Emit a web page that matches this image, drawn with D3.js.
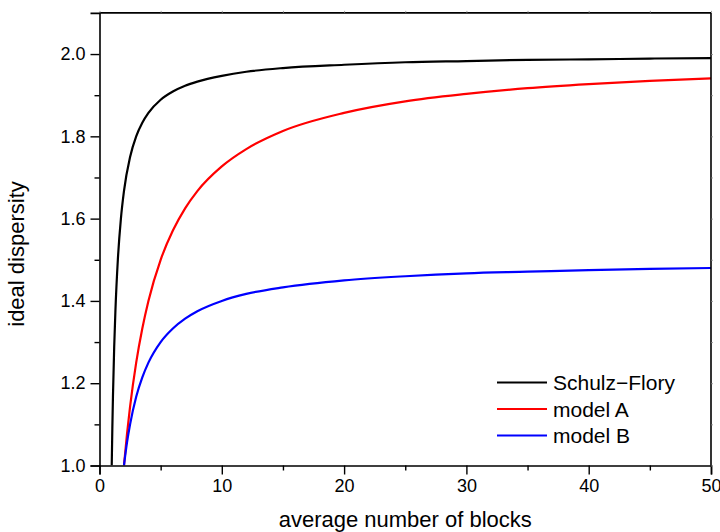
<!DOCTYPE html>
<html>
<head>
<meta charset="utf-8">
<script src="https://cdn.jsdelivr.net/npm/d3@7"></script>
<style>
  html, body { margin: 0; padding: 0; background: #fff; }
  svg text { font-family: "Liberation Sans", Arial, sans-serif; fill: #000; }
</style>
</head>
<body>
<svg id="chart" width="720" height="532"></svg>
<script>
// Average number of blocks (x) and ideal dispersity (y) for each model
const sfBlocks = [1, 1.05, 1.1, 1.2, 1.3, 1.5, 1.75, 2, 2.5, 3, 3.5, 4, 5, 6, 7, 8, 10, 12, 15, 20, 25, 30, 35, 40, 45, 50];
const sfDispersity = [1.000, 1.091, 1.167, 1.286, 1.375, 1.500, 1.600, 1.667, 1.750, 1.800, 1.833, 1.857, 1.889, 1.909, 1.923, 1.933, 1.947, 1.957, 1.966, 1.974, 1.980, 1.983, 1.986, 1.987, 1.989, 1.990];

const modelBlocks = [2, 2.25, 2.5, 3, 3.5, 4, 5, 6, 7, 8, 10, 12, 15, 20, 25, 30, 35, 40, 45, 50];
const modelADispersity = [1.000, 1.077, 1.143, 1.250, 1.333, 1.400, 1.500, 1.571, 1.625, 1.667, 1.727, 1.769, 1.813, 1.857, 1.885, 1.903, 1.917, 1.927, 1.935, 1.941];
const modelBDispersity = [1.000, 1.056, 1.100, 1.167, 1.214, 1.250, 1.300, 1.333, 1.357, 1.375, 1.400, 1.417, 1.433, 1.450, 1.460, 1.467, 1.471, 1.475, 1.478, 1.480];

const seriesNames = ["Schulz\u2212Flory", "model A", "model B"];
const seriesColors = ["#000000", "#ff0000", "#0000ff"];

const xTicks = [0, 10, 20, 30, 40, 50];
const xMinorTicks = [5, 15, 25, 35, 45];
const yTicks = [1.0, 1.2, 1.4, 1.6, 1.8, 2.0];
const yMinorTicks = [1.1, 1.3, 1.5, 1.7, 1.9];

const xTitle = "average number of blocks";
const yTitle = "ideal dispersity";

const series = [
  { name: seriesNames[0], color: seriesColors[0], xs: sfBlocks, ys: sfDispersity },
  { name: seriesNames[1], color: seriesColors[1], xs: modelBlocks, ys: modelADispersity },
  { name: seriesNames[2], color: seriesColors[2], xs: modelBlocks, ys: modelBDispersity }
];

const svg = d3.select("#chart");
const plot = { left: 99.5, right: 711, top: 12.9, bottom: 465.5 };

const x = d3.scaleLinear().domain([0, 50]).range([plot.left, plot.right]);
const y = d3.scaleLinear().domain([1.0, 2.1]).range([plot.bottom, plot.top]);

// clip curves to the frame
svg.append("defs").append("clipPath").attr("id", "clip")
  .append("rect")
  .attr("x", plot.left).attr("y", plot.top)
  .attr("width", plot.right - plot.left).attr("height", plot.bottom - plot.top);

const line = d3.line()
  .x(d => x(d[0]))
  .y(d => y(d[1]))
  .curve(d3.curveMonotoneX);

const curves = svg.append("g").attr("clip-path", "url(#clip)");
series.forEach(s => {
  const pts = s.xs.map((v, i) => [v, s.ys[i]]);
  curves.append("path")
    .datum(pts)
    .attr("fill", "none")
    .attr("stroke", s.color)
    .attr("stroke-width", 2.2)
    .attr("d", line);
});

// axes
function styleAxis(g) {
  g.selectAll(".domain").attr("stroke", "#000").attr("stroke-width", 1.6);
  g.selectAll(".tick line").attr("stroke", "#000").attr("stroke-width", 1.4);
  g.selectAll(".tick text").style("font-size", "18px");
}

// bottom: major + minor
const xAxis = svg.append("g")
  .attr("transform", `translate(0,${plot.bottom})`)
  .call(d3.axisBottom(x).tickValues(xTicks).tickSize(9).tickPadding(5).tickFormat(d3.format("d")));
styleAxis(xAxis);
svg.append("g")
  .attr("transform", `translate(0,${plot.bottom})`)
  .call(d3.axisBottom(x).tickValues(xMinorTicks).tickSize(5).tickFormat(""))
  .call(g => { g.select(".domain").remove(); styleAxis(g); });

// left: major + minor
const yAxis = svg.append("g")
  .attr("transform", `translate(${plot.left},0)`)
  .call(d3.axisLeft(y).tickValues(yTicks).tickSize(9).tickPadding(5).tickFormat(d3.format(".1f")));
styleAxis(yAxis);
svg.append("g")
  .attr("transform", `translate(${plot.left},0)`)
  .call(d3.axisLeft(y).tickValues(yMinorTicks).tickSize(5).tickFormat(""))
  .call(g => { g.select(".domain").remove(); styleAxis(g); });

// top and right frame with short ticks
const topAxis = svg.append("g")
  .attr("transform", `translate(0,${plot.top})`)
  .call(d3.axisTop(x).tickValues(xTicks.concat(xMinorTicks)).tickSize(2).tickFormat(""));
styleAxis(topAxis);
topAxis.selectAll(".tick line").attr("stroke-width", 0.8).attr("stroke", "#888");
const rightAxis = svg.append("g")
  .attr("transform", `translate(${plot.right},0)`)
  .call(d3.axisRight(y).tickValues(yTicks.concat(yMinorTicks)).tickSize(2).tickFormat(""));
styleAxis(rightAxis);
rightAxis.selectAll(".tick line").attr("stroke-width", 0.8).attr("stroke", "#888");
[topAxis, rightAxis].forEach(g => g.select(".domain").attr("d",
  g === topAxis ? `M${plot.left},0H${plot.right}` : `M0,${plot.top}V${plot.bottom}`));

// axis titles
svg.append("text")
  .attr("x", (plot.left + plot.right) / 2)
  .attr("y", 526.5)
  .attr("text-anchor", "middle")
  .style("font-size", "22px")
  .text(xTitle);

svg.append("text")
  .attr("transform", "translate(24,254) rotate(-90)")
  .attr("text-anchor", "middle")
  .style("font-size", "22px")
  .text(yTitle);

// legend
const legend = svg.append("g");
series.forEach((s, i) => {
  const ly = 382.5 + i * 26.5;
  legend.append("line")
    .attr("x1", 497).attr("x2", 547)
    .attr("y1", ly).attr("y2", ly)
    .attr("stroke", s.color).attr("stroke-width", 2.2);
  legend.append("text")
    .attr("x", 553).attr("y", ly + 7.5)
    .style("font-size", "21px")
    .text(s.name);
});
</script>
</body>
</html>
